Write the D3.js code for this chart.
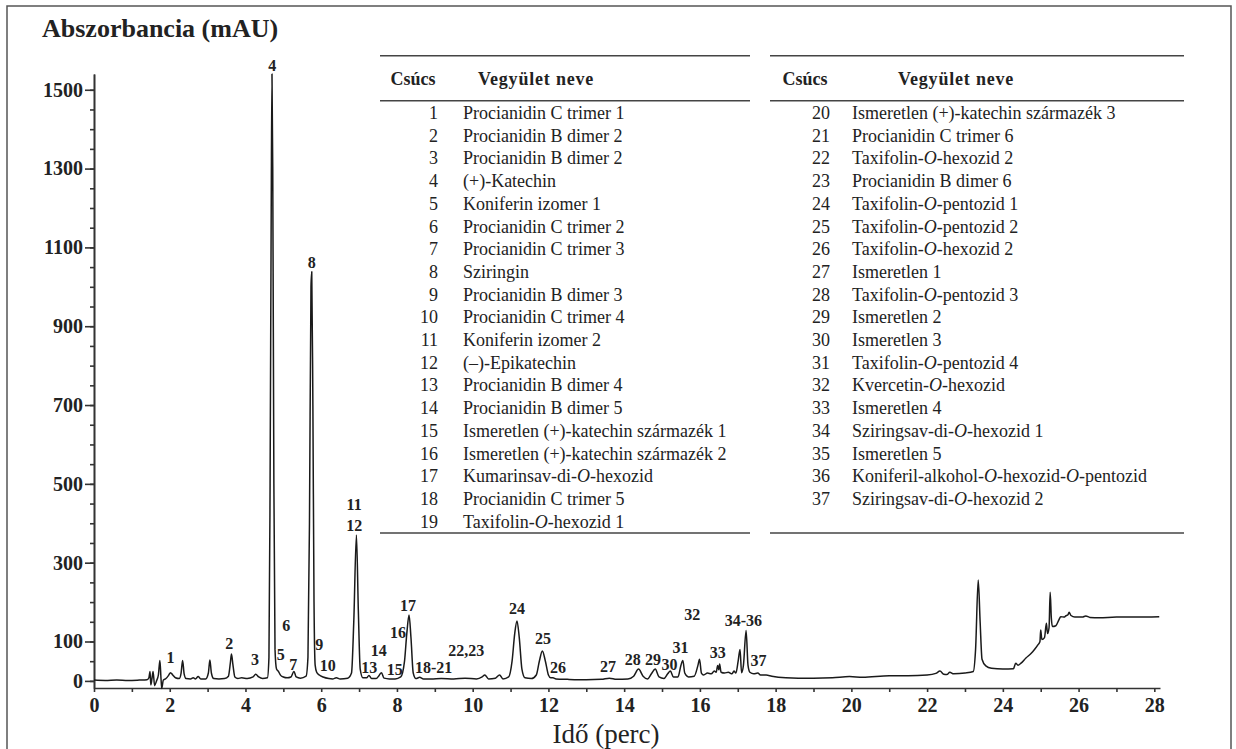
<!DOCTYPE html>
<html>
<head>
<meta charset="utf-8">
<script src="https://d3js.org/d3.v7.min.js"></script>
<style>
  body { margin: 0; background: #fff; }
  text { font-family: "Liberation Serif", "DejaVu Serif", serif; fill: #222; }
</style>
</head>
<body>
<script>
var width = 1236, height = 749;

// chromatogram trace (time in min, absorbance in mAU)
var traceTime = [0, 0.3, 0.6, 0.9, 1.2, 1.4, 1.45, 1.48, 1.5, 1.53, 1.56, 1.6, 1.65, 1.7, 1.74, 1.77, 1.79, 1.83, 1.9, 1.97,
  2.02, 2.08, 2.15, 2.25, 2.3, 2.34, 2.38, 2.43, 2.55, 2.62, 2.68, 2.75, 2.82, 2.95, 3.02, 3.06, 3.1, 3.16, 3.3, 3.45,
  3.55, 3.6, 3.63, 3.67, 3.72, 3.8, 3.9, 4.05, 4.2, 4.27, 4.35, 4.45, 4.58, 4.62, 4.65, 4.68, 4.7, 4.72, 4.75, 4.78,
  4.82, 4.87, 4.93, 5.0, 5.1, 5.2, 5.28, 5.34, 5.45, 5.6, 5.65, 5.69, 5.73, 5.75, 5.78, 5.81, 5.84, 5.88, 5.95, 6.05,
  6.2, 6.3, 6.4, 6.5, 6.7, 6.8, 6.86, 6.93, 6.98, 7.03, 7.1, 7.2, 7.26, 7.33, 7.45, 7.53, 7.59, 7.66, 7.8, 7.95,
  8.1, 8.2, 8.26, 8.32, 8.37, 8.43, 8.5, 8.6, 8.7, 8.9, 9.17, 9.5, 9.8, 10.1, 10.25, 10.32, 10.42, 10.6, 10.71, 10.8,
  10.95, 11.04, 11.11, 11.17, 11.23, 11.3, 11.38, 11.55, 11.68, 11.76, 11.84, 11.92, 12.0, 12.06, 12.12, 12.2, 12.5, 13.0, 13.4, 13.61,
  13.8, 14.1, 14.25, 14.38, 14.5, 14.62, 14.72, 14.82, 14.92, 15.05, 15.15, 15.22, 15.3, 15.42, 15.5, 15.55, 15.6, 15.7, 15.85, 15.95,
  15.99, 16.04, 16.1, 16.2, 16.3, 16.38, 16.43, 16.47, 16.5, 16.52, 16.56, 16.65, 16.75, 16.85, 16.9, 16.95, 17.01, 17.06, 17.1, 17.15,
  17.22, 17.27, 17.32, 17.42, 17.53, 17.6, 17.75, 17.9, 18.27, 18.6, 19.0, 19.5, 19.95, 20.3, 21.0, 21.5, 22.0, 22.23, 22.34, 22.44,
  22.52, 22.6, 22.7, 23.0, 23.22, 23.28, 23.35, 23.4, 23.45, 23.55, 23.7, 24.0, 24.28, 24.34, 24.4, 24.48, 24.61, 24.75, 24.83, 24.93,
  24.98, 25.0, 25.03, 25.1, 25.15, 25.18, 25.22, 25.25, 25.28, 25.31, 25.4, 25.48, 25.53, 25.62, 25.66, 25.72, 25.75, 25.8, 25.9, 26.1,
  26.19, 26.3, 26.55, 27.0, 27.5, 28.13];
var traceAbs = [2, 1, 2, 1, 2, 3, 8, 24, -10, 5, 24, -12, 0, 15, 52, 5, -19, 2, 6, 14,
  21, 15, 8, 6, 20, 52, 18, 6, 5, 8, 5, 11, 5, 5, 20, 53, 20, 6, 5, 6,
  12, 45, 68, 40, 10, 6, 8, 6, 10, 17, 10, 6, 8, 60, 500, 1200, 1540, 1300, 500, 80,
  30, 24, 14, 10, 8, 10, 24, 10, 7, 12, 60, 400, 1000, 1038, 700, 200, 40, 22, 15, 10,
  6, 5, 8, 5, 7, 20, 150, 370, 180, 30, 8, 8, 14, 6, 6, 14, 21, 7, 5, 5,
  10, 50, 120, 167, 110, 20, 6, 9, 5, 5, 6, 5, 7, 5, 10, 15, 5, 7, 15, 5,
  10, 50, 120, 152, 110, 30, 8, 6, 15, 50, 76, 50, 15, 8, 8, 5, 4, 3, 4, 7,
  4, 5, 12, 30, 12, 5, 18, 30, 10, 6, 18, 25, 10, 10, 40, 52, 20, 10, 12, 40,
  55, 20, 15, 20, 18, 25, 22, 39, 28, 43, 22, 20, 22, 18, 25, 20, 50, 80, 21, 40,
  128, 40, 22, 18, 20, 15, 15, 12, 8, 7, 7, 8, 11, 9, 13, 13, 15, 19, 25, 17,
  16, 22, 18, 20, 24, 80, 256, 150, 55, 38, 32, 30, 31, 45, 40, 45, 58, 70, 79, 92,
  100, 129, 105, 110, 146, 120, 135, 225, 160, 138, 140, 155, 163, 162, 165, 168, 174, 166, 162, 162,
  165, 161, 160, 162, 162, 163];

// peak numbers printed over the trace
var labelText = ["1", "2", "3", "4", "5", "6", "7", "8", "9", "10", "11", "12", "13", "14", "15", "16", "17", "18-21", "22,23",
  "24", "25", "26", "27", "28", "29", "30", "31", "32", "33", "34-36", "37"];
var labelTime = [2.02, 3.57, 4.25, 4.71, 4.93, 5.08, 5.26, 5.75, 5.95, 6.17, 6.87, 6.87, 7.27, 7.52, 7.94, 8.03, 8.29, 8.97, 9.83,
  11.17, 11.86, 12.25, 13.57, 14.23, 14.76, 15.2, 15.49, 15.8, 16.47, 17.15, 17.55];
var labelAbs = [60, 96, 55, 1563, 66, 142, 41, 1061, 93, 39, 449, 394, 34, 78, 30, 124, 191, 35, 77,
  184, 108, 35, 36, 55, 55, 43, 86, 170, 72, 153, 53];

var yTickLabels = [0, 100, 300, 500, 700, 900, 1100, 1300, 1500];
var xTickLabels = [0, 2, 4, 6, 8, 10, 12, 14, 16, 18, 20, 22, 24, 26, 28];

// compound table
var peakIds = d3.range(1, 38);
var compoundNames = ["Procianidin C trimer 1", "Procianidin B dimer 2", "Procianidin B dimer 2", "(+)-Katechin",
  "Koniferin izomer 1", "Procianidin C trimer 2", "Procianidin C trimer 3", "Sziringin", "Procianidin B dimer 3",
  "Procianidin C trimer 4", "Koniferin izomer 2", "(\u2013)-Epikatechin", "Procianidin B dimer 4", "Procianidin B dimer 5",
  "Ismeretlen (+)-katechin származék 1", "Ismeretlen (+)-katechin származék 2", "Kumarinsav-di-O-hexozid",
  "Procianidin C trimer 5", "Taxifolin-O-hexozid 1",
  "Ismeretlen (+)-katechin származék 3", "Procianidin C trimer 6", "Taxifolin-O-hexozid 2", "Procianidin B dimer 6",
  "Taxifolin-O-pentozid 1", "Taxifolin-O-pentozid 2", "Taxifolin-O-hexozid 2", "Ismeretlen 1", "Taxifolin-O-pentozid 3",
  "Ismeretlen 2", "Ismeretlen 3", "Taxifolin-O-pentozid 4", "Kvercetin-O-hexozid", "Ismeretlen 4",
  "Sziringsav-di-O-hexozid 1", "Ismeretlen 5", "Koniferil-alkohol-O-hexozid-O-pentozid", "Sziringsav-di-O-hexozid 2"];

var svg = d3.select("body").append("svg").attr("width", width).attr("height", height);

// frame
svg.append("rect").attr("x", 7).attr("y", 6).attr("width", 1224).attr("height", 760)
  .attr("fill", "none").attr("stroke", "#555").attr("stroke-width", 1.5);

var x = d3.scaleLinear().domain([0, 28.15]).range([94, 1160]);
var y = d3.scaleLinear().domain([-18, 1540]).range([688, 74]);

// axes
var yMinor = svg.append("g").attr("transform", "translate(94,0)")
  .call(d3.axisLeft(y).tickValues(d3.range(0, 1501, 50)).tickSize(4).tickSizeOuter(0).tickFormat(""));
var yMajor = svg.append("g").attr("transform", "translate(94,0)")
  .call(d3.axisLeft(y).tickValues(yTickLabels).tickSize(9).tickPadding(2).tickSizeOuter(0).tickFormat(d3.format("d")));
var xAxis = svg.append("g").attr("transform", "translate(0,688)")
  .call(d3.axisBottom(x).tickValues(d3.range(0, 29)).tickSize(4).tickPadding(6).tickSizeOuter(0)
    .tickFormat(function(d){ return xTickLabels.indexOf(d) >= 0 ? d : ""; }));
[yMinor, yMajor, xAxis].forEach(function(g){
  g.selectAll("path, line").attr("stroke", "#333").attr("stroke-width", 1.6);
  g.selectAll("text").attr("font-family", "Liberation Serif").attr("font-weight", "bold")
    .attr("font-size", "20px").attr("fill", "#222");
});

// axis titles
svg.append("text").attr("x", 42).attr("y", 37).attr("font-size", "26px").attr("font-weight", "bold")
  .text("Abszorbancia (mAU)");
svg.append("text").attr("x", 606).attr("y", 743).attr("font-size", "27px").attr("text-anchor", "middle")
  .text("Idő (perc)");

// trace
var line = d3.line()
  .x(function(d){ return x(d[0]); })
  .y(function(d){ return y(d[1]); })
  .curve(d3.curveMonotoneX);
svg.append("path").datum(d3.zip(traceTime, traceAbs)).attr("d", line)
  .attr("fill", "none").attr("stroke", "#1a1a1a").attr("stroke-width", 1.5).attr("stroke-linejoin", "round");

// peak numbers
svg.selectAll("text.peak").data(labelText).enter().append("text").attr("class", "peak")
  .attr("x", function(d, i){ return x(labelTime[i]); })
  .attr("y", function(d, i){ return y(labelAbs[i]); })
  .attr("dy", "0.35em").attr("text-anchor", "middle")
  .attr("font-size", "16px").attr("font-weight", "bold")
  .text(function(d){ return d; });

// tables
var rowStep = 22.7;
function drawTable(x0, x1, numRight, nameLeft, headCsucs, headName, ids){
  [55.7, 100.7, 533].forEach(function(ly){
    svg.append("line").attr("x1", x0).attr("x2", x1).attr("y1", ly).attr("y2", ly)
      .attr("stroke", "#444").attr("stroke-width", 1.5);
  });
  svg.append("text").attr("x", headCsucs).attr("y", 85).attr("text-anchor", "middle")
    .attr("font-size", "18px").attr("font-weight", "bold").text("Csúcs");
  svg.append("text").attr("x", headName).attr("y", 85).attr("text-anchor", "middle")
    .attr("font-size", "18px").attr("font-weight", "bold").attr("letter-spacing", "0.8px").text("Vegyület neve");

  var rows = svg.selectAll(null).data(ids).enter().append("g")
    .attr("transform", function(d, i){ return "translate(0," + (113 + i * rowStep + 6) + ")"; });
  rows.append("text").attr("x", numRight).attr("text-anchor", "end").attr("font-size", "18px")
    .text(function(d){ return d; });
  rows.append("text").attr("x", nameLeft).attr("font-size", "18px")
    .each(function(d){
      var t = d3.select(this);
      compoundNames[d - 1].split(/(-O-)/).forEach(function(part){
        if (part === "-O-") {
          t.append("tspan").text("-");
          t.append("tspan").attr("font-style", "italic").text("O");
          t.append("tspan").text("-");
        } else {
          t.append("tspan").text(part);
        }
      });
    });
}
drawTable(380, 750, 438, 463, 413, 536, peakIds.slice(0, 19));
drawTable(770, 1184, 830, 852, 805, 956, peakIds.slice(19));
</script>
</body>
</html>
